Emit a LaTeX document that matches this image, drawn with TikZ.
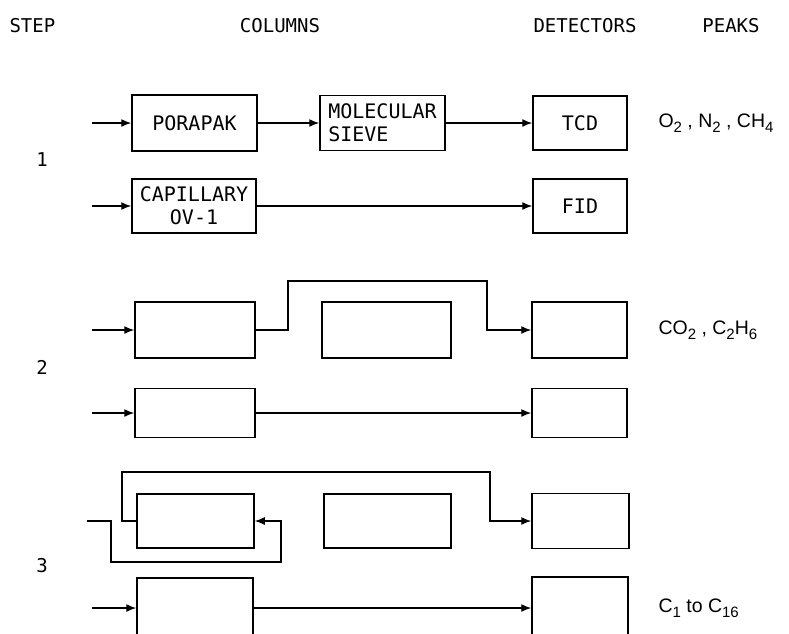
\documentclass[tikz,border=0pt]{standalone}
\usepackage{fontspec}
\setmainfont{Liberation Sans}
\newfontfamily\plotfont{DejaVu Sans Mono}
\usetikzlibrary{arrows.meta}
\newcommand{\pksub}[1]{\raisebox{-0.45ex}{\fontsize{15}{15}\selectfont#1}}

\begin{document}
\begin{tikzpicture}[x=1pt,y=-1pt,
  colbox/.style={draw,line width=1.5pt,inner sep=0pt,align=center,
    font=\plotfont\fontsize{20}{23}\selectfont},
  flow/.style={line width=1.4pt},
  feed/.style={flow,-{Latex[length=10pt,width=8pt]}},
  head/.style={font=\plotfont\fontsize{19}{22}\selectfont},
  peak/.style={anchor=west,font=\fontsize{19.5}{22}\selectfont}]
\path[use as bounding box] (0,0) rectangle (789,633);
\clip (0,0) rectangle (789,633);
% headings
\node[head,anchor=west] (hstep) at (6,26) {STEP};
\node[head] (hcol) at (280,26) {COLUMNS};
\node[head] (hdet) at (585,26) {DETECTORS};
\node[head] (hpeak) at (731,26) {PEAKS};
\node[head] (st1) at (42,160) {1};
\node[head] (st2) at (42,367) {2};
\node[head] (st3) at (42,566) {3};
% step 1
\node[colbox,minimum width=125,minimum height=56] (pora) at (194.5,123) {PORAPAK};
\node[colbox,minimum width=125,minimum height=55,align=left] (mol) at (382.5,123) {MOLECULAR\\SIEVE};
\node[colbox,minimum width=94,minimum height=54] (tcd) at (580,123) {TCD};
\node[colbox,minimum width=124,minimum height=54] (cap) at (194,206) {CAPILLARY\\OV-1};
\node[colbox,minimum width=94,minimum height=54] (fid) at (580,206) {FID};
\coordinate (in1a) at (92,123);
\coordinate (in1b) at (92,206);
\draw[feed] (in1a) -- (pora);
\draw[feed] (pora) -- (mol);
\draw[feed] (mol) -- (tcd);
\draw[feed] (in1b) -- (cap);
\draw[feed] (cap) -- (fid);
\node[peak] (pk1) at (655,123) {O\pksub{2} , N\pksub{2} , CH\pksub{4}};
% step 2
\node[colbox,minimum width=120,minimum height=56] (a2) at (195,330) {};
\node[colbox,minimum width=129,minimum height=56] (b2) at (386.5,330) {};
\node[colbox,minimum width=95,minimum height=56] (d2) at (579.5,330) {};
\node[colbox,minimum width=120,minimum height=49] (c2) at (195,413) {};
\node[colbox,minimum width=95,minimum height=49] (e2) at (579.5,413) {};
\coordinate (in2a) at (92,330);
\coordinate (in2b) at (92,413);
\coordinate (byp1) at (288,281);
\coordinate (byp2) at (487,281);
\draw[feed] (in2a) -- (a2);
\draw[feed] (a2.east) -| (byp1) -- (byp2) |- (d2.west);
\draw[feed] (in2b) -- (c2);
\draw[feed] (c2) -- (e2);
\node[peak] (pk2) at (655,330) {CO\pksub{2} , C\pksub{2}H\pksub{6}};
% step 3
\node[colbox,minimum width=117,minimum height=54] (a3) at (195.5,521) {};
\node[colbox,minimum width=127,minimum height=54] (b3) at (387.5,521) {};
\node[colbox,minimum width=97,minimum height=55] (d3) at (580.5,521) {};
\node[colbox,minimum width=116,minimum height=60] (c3) at (195,608) {};
\node[colbox,minimum width=96,minimum height=62] (e3) at (580,608) {};
\coordinate (bk1) at (122,472);
\coordinate (bk2) at (490,472);
\coordinate (in3a) at (87,521);
\coordinate (lp1) at (111,562);
\coordinate (lp2) at (281,562);
\coordinate (in3b) at (92,608);
\draw[feed] (a3.west) -| (bk1) -- (bk2) |- (d3.west);
\draw[feed] (in3a) -| (lp1) -- (lp2) |- (a3.east);
\draw[feed] (in3b) -- (c3);
\draw[feed] (c3) -- (e3);
\node[peak] (pk3) at (655,608) {C\pksub{1} to C\pksub{16}};
\end{tikzpicture}
\end{document}
